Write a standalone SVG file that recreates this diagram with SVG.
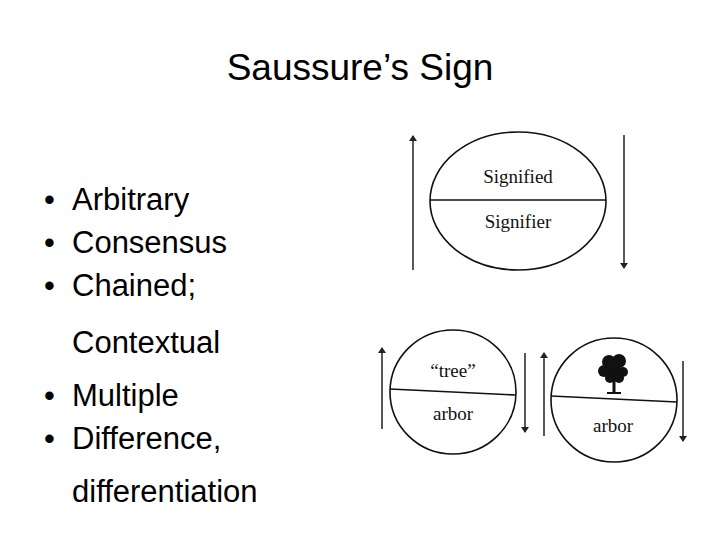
<svg xmlns="http://www.w3.org/2000/svg" width="720" height="540" viewBox="0 0 720 540">
<defs>
<marker id="ah" markerWidth="6" markerHeight="8" refX="5" refY="4" orient="auto" markerUnits="userSpaceOnUse"><path d="M0,0 L6,4 L0,8 Z" fill="#222"/></marker>
<style>
.t{font-family:"Liberation Sans",Arial,sans-serif;fill:#000}
.b{font-size:31px}
.s{font-family:"Liberation Serif","Times New Roman",serif;font-size:19px;fill:#111;text-anchor:middle}
.e{fill:none;stroke:#111;stroke-width:1.6}
.a{stroke:#222;stroke-width:1.5;marker-end:url(#ah)}
</style>
</defs>
<rect width="720" height="540" fill="#fff"/>
<text class="t" x="360" y="80" font-size="37" text-anchor="middle">Saussure’s Sign</text>
<g id="bullets" class="t b">
<text x="44" y="210">•</text><text x="72" y="210">Arbitrary</text>
<text x="44" y="253">•</text><text x="72" y="253">Consensus</text>
<text x="44" y="296">•</text><text x="72" y="296">Chained;</text>
<text x="72" y="353">Contextual</text>
<text x="44" y="406">•</text><text x="72" y="406">Multiple</text>
<text x="44" y="449">•</text><text x="72" y="449">Difference,</text>
<text x="72" y="502">differentiation</text>
</g>
<g id="sign">
<ellipse class="e" cx="518" cy="201" rx="88" ry="69"/>
<line class="e" x1="430" y1="200" x2="606" y2="200"/>
<text class="s" x="518" y="183">Signified</text>
<text class="s" x="518" y="228">Signifier</text>
</g>
<g id="tree-word">
<ellipse class="e" cx="453" cy="392" rx="63" ry="62"/>
<line class="e" x1="390" y1="389" x2="515" y2="395"/>
<text class="s" x="453" y="377" font-size="16">“tree”</text>
<text class="s" x="453" y="420" font-size="16">arbor</text>
</g>
<g id="tree-image">
<ellipse class="e" cx="614" cy="400" rx="63" ry="62"/>
<line class="e" x1="551" y1="396" x2="677" y2="402"/>
<text class="s" x="613" y="432" font-size="16">arbor</text>
<g fill="#111">
<circle cx="609" cy="362" r="7"/><circle cx="619" cy="361" r="7"/><circle cx="604" cy="371" r="6"/><circle cx="614" cy="370" r="7"/><circle cx="623" cy="372" r="5"/><circle cx="610" cy="378" r="5"/><circle cx="619" cy="378" r="5"/>
<rect x="612.5" y="378" width="3" height="15"/><rect x="607" y="392" width="14" height="2"/>
</g>
</g>
<g id="connectors">
<line class="a" x1="413" y1="270" x2="413" y2="136"/>
<line class="a" x1="624" y1="135" x2="624" y2="268"/>
<line class="a" x1="382" y1="429" x2="382" y2="348"/>
<line class="a" x1="525" y1="353" x2="525" y2="432"/>
<line class="a" x1="544" y1="436" x2="544" y2="353"/>
<line class="a" x1="683" y1="361" x2="683" y2="441"/>
</g>
</svg>
